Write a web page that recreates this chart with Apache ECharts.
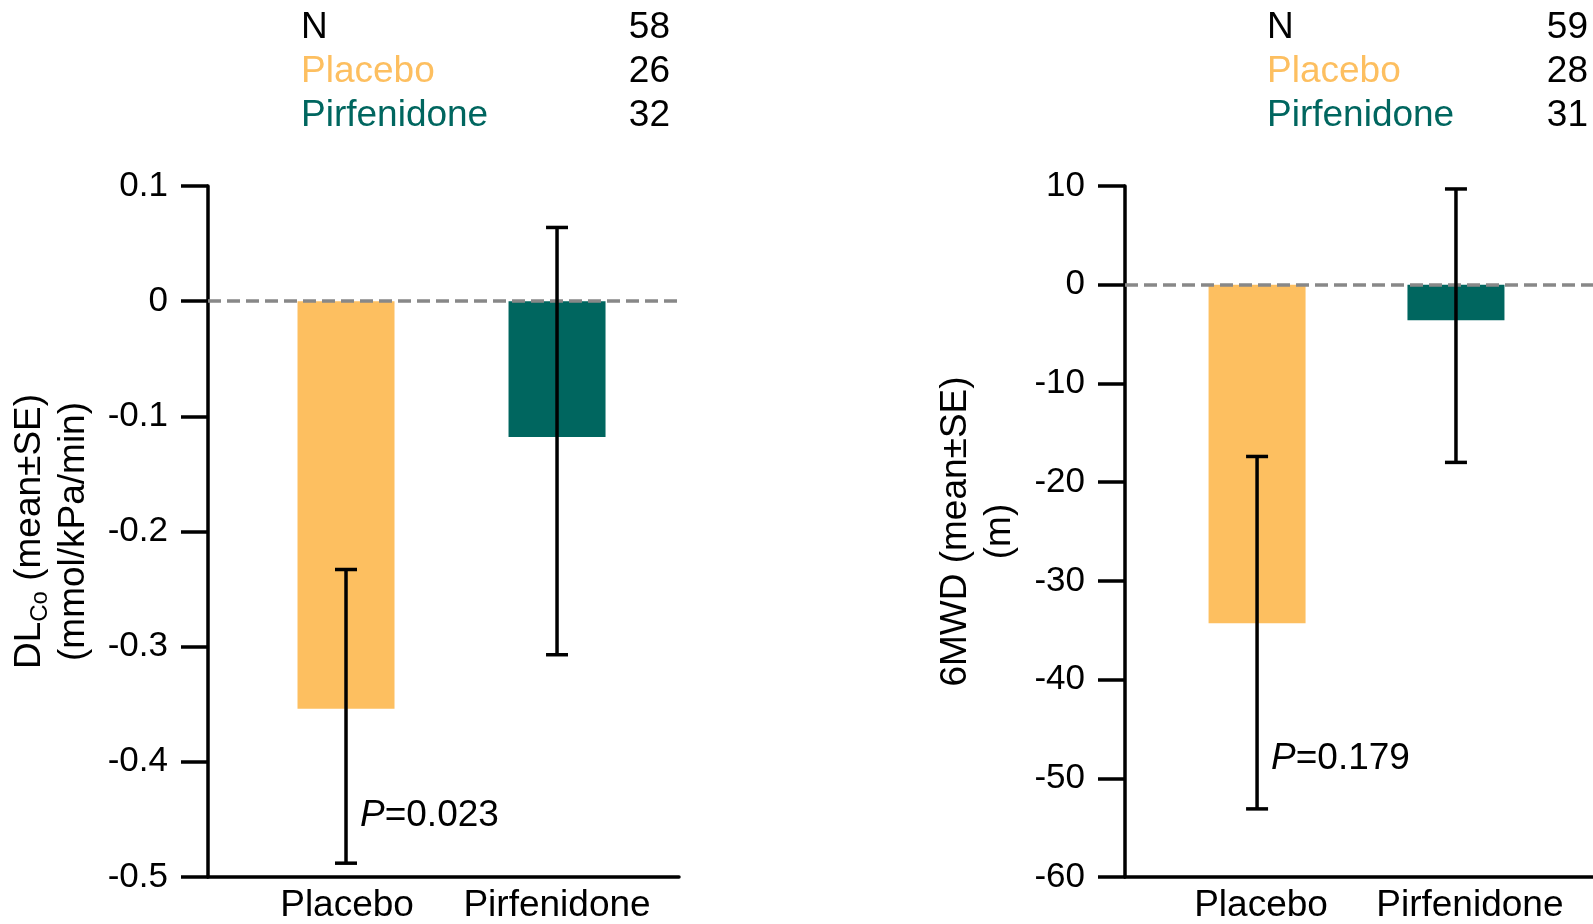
<!DOCTYPE html>
<html>
<head>
    <meta charset="utf-8">
    <title>DLco and 6MWD change</title>
    <script src="https://cdn.jsdelivr.net/npm/echarts@6/dist/echarts.min.js"></script>
    <style>
        html, body { margin: 0; padding: 0; background: #fff; }
        #chart { width: 1593px; height: 924px; }
    </style>
</head>
<body>
    <div id="chart"></div>
    <script type="text/javascript">
        // data
        var categories = ['Placebo', 'Pirfenidone'];
        var dlcoMean = [-0.354, -0.118];
        var dlcoLow = [-0.488, -0.307];
        var dlcoHigh = [-0.233, 0.064];
        var mwdMean = [-34.3, -3.6];
        var mwdLow = [-53.1, -18.0];
        var mwdHigh = [-17.4, 9.7];
        var nLabels = ['N', 'Placebo', 'Pirfenidone'];
        var dlcoN = [58, 26, 32];
        var mwdN = [59, 28, 31];
        var pValues = ['0.023', '0.179'];
        var pAt = [-0.447, -48.0];   // y value where the P text sits

        var ORANGE = '#FDBF60';
        var TEAL = '#00665F';
        var barColors = [ORANGE, TEAL];
        var labelColors = ['#000', ORANGE, TEAL];
        var FONT = "'Liberation Sans', Arial, sans-serif";

        var chart = echarts.init(document.getElementById('chart'));

        // N table at the top of each panel
        var titles = [];
        var tableCols = [{left: 301, right: 923, n: dlcoN}, {left: 1267, right: 5, n: mwdN}];
        var rowTop = [9, 53, 97];
        tableCols.forEach(function (col) {
            for (var i = 0; i < nLabels.length; i++) {
                titles.push({
                    text: nLabels[i], left: col.left, top: rowTop[i], padding: 0,
                    textStyle: {fontSize: 37, fontWeight: 'normal', color: labelColors[i], fontFamily: FONT}
                });
                titles.push({
                    text: String(col.n[i]), right: col.right, top: rowTop[i], padding: 0,
                    textStyle: {fontSize: 37, fontWeight: 'normal', color: '#000', fontFamily: FONT}
                });
            }
        });

        // labelAt: where each category name sits on the x value axis
        function xAxisFor(idx, min, max, labelAt) {
            return {
                type: 'value', gridIndex: idx, min: min, max: max,
                splitLine: {show: false},
                axisTick: {show: false},
                axisLine: {show: true, onZero: false, lineStyle: {color: '#000', width: 3.5}},
                axisLabel: {
                    customValues: labelAt, margin: 10,
                    fontSize: 37, color: '#000', fontFamily: FONT,
                    formatter: function (v) { return categories[Math.round(v)]; }
                }
            };
        }

        function yAxisFor(idx, min, max, interval, name, nameGap) {
            return {
                type: 'value', gridIndex: idx, min: min, max: max, interval: interval,
                splitLine: {show: false},
                axisLine: {show: true, onZero: false, lineStyle: {color: '#000', width: 3.5}},
                axisTick: {show: true, length: 27, lineStyle: {color: '#000', width: 3.5}},
                axisLabel: {margin: 40, fontSize: 35, color: '#000', fontFamily: FONT},
                name: name, nameLocation: 'middle', nameRotate: 90, nameGap: nameGap,
                nameTextStyle: {
                    fontSize: 37, color: '#000', fontFamily: FONT, lineHeight: 44,
                    rich: {sub: {fontSize: 24, color: '#000', fontFamily: FONT, verticalAlign: 'bottom', lineHeight: 44}}
                }
            };
        }

        function barSeries(idx, means, pIdx) {
            return {
                type: 'bar', xAxisIndex: idx, yAxisIndex: idx, barWidth: 97,
                data: means.map(function (m, i) {
                    return {value: [i, m], itemStyle: {color: barColors[i]}};
                }),
                markLine: {
                    silent: true, symbol: 'none', z: 5,
                    label: {show: false},
                    lineStyle: {color: '#888', type: [13, 6], width: 3.5},
                    data: [{yAxis: 0}]
                },
                markPoint: {
                    symbolSize: 0,
                    data: [{
                        coord: [0, pAt[pIdx]],
                        label: {
                            show: true, position: 'right', distance: 14,
                            formatter: '{i|P}{t|=' + pValues[pIdx] + '}',
                            rich: {
                                i: {fontSize: 37, fontStyle: 'italic', color: '#000', fontFamily: FONT},
                                t: {fontSize: 37, color: '#000', fontFamily: FONT}
                            }
                        }
                    }]
                }
            };
        }

        function errorSeries(idx, lows, highs) {
            return {
                type: 'custom', xAxisIndex: idx, yAxisIndex: idx, z: 10,
                data: lows.map(function (l, i) { return [i, l, highs[i]]; }),
                renderItem: function (params, api) {
                    var x = api.value(0);
                    var lo = api.coord([x, api.value(1)]);
                    var hi = api.coord([x, api.value(2)]);
                    var cap = 11;
                    var st = {stroke: '#000', lineWidth: 3.5};
                    return {
                        type: 'group',
                        children: [
                            {type: 'line', shape: {x1: lo[0], y1: lo[1], x2: hi[0], y2: hi[1]}, style: st},
                            {type: 'line', shape: {x1: lo[0] - cap, y1: lo[1], x2: lo[0] + cap, y2: lo[1]}, style: st},
                            {type: 'line', shape: {x1: hi[0] - cap, y1: hi[1], x2: hi[0] + cap, y2: hi[1]}, style: st}
                        ]
                    };
                }
            };
        }

        var option = {
            animation: false,
            backgroundColor: '#fff',
            title: titles,
            grid: [
                {left: 208, top: 186, width: 471, height: 695},
                {left: 1125, top: 186, width: 468, height: 695}
            ],
            xAxis: [
                xAxisFor(0, -0.654, 1.578, [0.005, 1.0]),
                xAxisFor(1, -0.664, 1.689, [0.02, 1.07])
            ],
            yAxis: [
                yAxisFor(0, -0.5, 0.1, 0.1, 'DL{sub|Co} (mean\u00b1SE)\n(mmol/kPa/min)', 112),
                yAxisFor(1, -60, 10, 10, '6MWD (mean\u00b1SE)\n(m)', 103)
            ],
            series: [
                barSeries(0, dlcoMean, 0),
                errorSeries(0, dlcoLow, dlcoHigh),
                barSeries(1, mwdMean, 1),
                errorSeries(1, mwdLow, mwdHigh)
            ]
        };

        chart.setOption(option);
    </script>
</body>
</html>
